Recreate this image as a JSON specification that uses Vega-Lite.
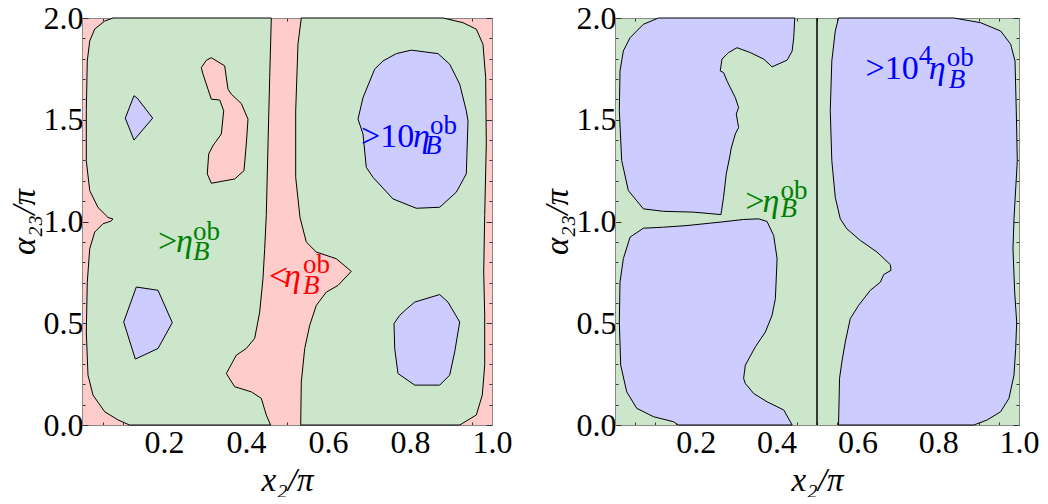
{
  "$schema": "https://vega.github.io/schema/vega-lite/v6.json",
  "padding": {"left": 8, "top": 2, "right": 0, "bottom": 0},
  "spacing": 29,
  "config": {
    "view": {"stroke": null},
    "axis": {
      "grid": false,
      "labelFont": "'Liberation Serif', 'Times New Roman', serif",
      "labelFontSize": 32,
      "labelColor": "black",
      "labelFlush": false,
      "labelOverlap": false,
      "titleFont": "'Liberation Serif', 'Times New Roman', serif",
      "titleFontSize": 33,
      "titleFontWeight": "normal",
      "titleFontStyle": "italic",
      "titleColor": "black",
      "domainColor": "#888888",
      "domainWidth": 1,
      "tickColor": "#333333",
      "tickWidth": 1
    }
  },
  "datasets": {
    "left": [
      {"s":"g1","r":"above","o":1,"x":0.0756,"y":2},
      {"s":"g1","r":"above","o":2,"x":0.0554,"y":1.985},
      {"s":"g1","r":"above","o":3,"x":0.031,"y":1.946},
      {"s":"g1","r":"above","o":4,"x":0.0188,"y":1.887},
      {"s":"g1","r":"above","o":5,"x":0.0129,"y":1.789},
      {"s":"g1","r":"above","o":6,"x":0.0105,"y":1.544},
      {"s":"g1","r":"above","o":7,"x":0.0105,"y":1.299},
      {"s":"g1","r":"above","o":8,"x":0.0188,"y":1.152},
      {"s":"g1","r":"above","o":9,"x":0.039,"y":1.069},
      {"s":"g1","r":"above","o":10,"x":0.0634,"y":1.02},
      {"s":"g1","r":"above","o":11,"x":0.0756,"y":1.012},
      {"s":"g1","r":"above","o":12,"x":0.0707,"y":1.002},
      {"s":"g1","r":"above","o":13,"x":0.0512,"y":0.989},
      {"s":"g1","r":"above","o":14,"x":0.031,"y":0.948},
      {"s":"g1","r":"above","o":15,"x":0.0188,"y":0.866},
      {"s":"g1","r":"above","o":16,"x":0.0129,"y":0.702},
      {"s":"g1","r":"above","o":17,"x":0.0105,"y":0.457},
      {"s":"g1","r":"above","o":18,"x":0.0146,"y":0.245},
      {"s":"g1","r":"above","o":19,"x":0.0268,"y":0.147},
      {"s":"g1","r":"above","o":20,"x":0.0554,"y":0.065},
      {"s":"g1","r":"above","o":21,"x":0.0878,"y":0.025},
      {"s":"g1","r":"above","o":22,"x":0.116,"y":0},
      {"s":"g1","r":"above","o":23,"x":0.46,"y":0},
      {"s":"g1","r":"above","o":24,"x":0.4495,"y":0.049},
      {"s":"g1","r":"above","o":25,"x":0.4373,"y":0.131},
      {"s":"g1","r":"above","o":26,"x":0.4129,"y":0.163},
      {"s":"g1","r":"above","o":27,"x":0.3724,"y":0.188},
      {"s":"g1","r":"above","o":28,"x":0.352,"y":0.253},
      {"s":"g1","r":"above","o":29,"x":0.3763,"y":0.343},
      {"s":"g1","r":"above","o":30,"x":0.4007,"y":0.376},
      {"s":"g1","r":"above","o":31,"x":0.4212,"y":0.426},
      {"s":"g1","r":"above","o":32,"x":0.4334,"y":0.555},
      {"s":"g1","r":"above","o":33,"x":0.4415,"y":0.721},
      {"s":"g1","r":"above","o":34,"x":0.4456,"y":0.868},
      {"s":"g1","r":"above","o":35,"x":0.4495,"y":1.029},
      {"s":"g1","r":"above","o":36,"x":0.4537,"y":1.382},
      {"s":"g1","r":"above","o":37,"x":0.4578,"y":1.707},
      {"s":"g1","r":"above","o":38,"x":0.4617,"y":2},
      {"s":"g2","r":"above","o":1,"x":0.5349,"y":2},
      {"s":"g2","r":"above","o":2,"x":0.5268,"y":1.873},
      {"s":"g2","r":"above","o":3,"x":0.5212,"y":1.544},
      {"s":"g2","r":"above","o":4,"x":0.5212,"y":1.217},
      {"s":"g2","r":"above","o":5,"x":0.5317,"y":1.02},
      {"s":"g2","r":"above","o":6,"x":0.5471,"y":0.899},
      {"s":"g2","r":"above","o":7,"x":0.5715,"y":0.85},
      {"s":"g2","r":"above","o":8,"x":0.6202,"y":0.817},
      {"s":"g2","r":"above","o":9,"x":0.6568,"y":0.755},
      {"s":"g2","r":"above","o":10,"x":0.6244,"y":0.686},
      {"s":"g2","r":"above","o":11,"x":0.5959,"y":0.653},
      {"s":"g2","r":"above","o":12,"x":0.5715,"y":0.588},
      {"s":"g2","r":"above","o":13,"x":0.5554,"y":0.49},
      {"s":"g2","r":"above","o":14,"x":0.5432,"y":0.376},
      {"s":"g2","r":"above","o":15,"x":0.5349,"y":0.212},
      {"s":"g2","r":"above","o":16,"x":0.5334,"y":0},
      {"s":"g2","r":"above","o":17,"x":0.9212,"y":0},
      {"s":"g2","r":"above","o":18,"x":0.9617,"y":0.049},
      {"s":"g2","r":"above","o":19,"x":0.9763,"y":0.147},
      {"s":"g2","r":"above","o":20,"x":0.9822,"y":0.294},
      {"s":"g2","r":"above","o":21,"x":0.9822,"y":0.539},
      {"s":"g2","r":"above","o":22,"x":0.9798,"y":0.751},
      {"s":"g2","r":"above","o":23,"x":0.9822,"y":1.029},
      {"s":"g2","r":"above","o":24,"x":0.9861,"y":1.381},
      {"s":"g2","r":"above","o":25,"x":0.9846,"y":1.707},
      {"s":"g2","r":"above","o":26,"x":0.978,"y":1.871},
      {"s":"g2","r":"above","o":27,"x":0.9617,"y":1.945},
      {"s":"g2","r":"above","o":28,"x":0.9293,"y":1.977},
      {"s":"g2","r":"above","o":29,"x":0.8805,"y":2},
      {"s":"r1","r":"below","o":1,"x":0.3154,"y":1.805},
      {"s":"r1","r":"below","o":2,"x":0.348,"y":1.765},
      {"s":"r1","r":"below","o":3,"x":0.3561,"y":1.65},
      {"s":"r1","r":"below","o":4,"x":0.3641,"y":1.626},
      {"s":"r1","r":"below","o":5,"x":0.3885,"y":1.58},
      {"s":"r1","r":"below","o":6,"x":0.4049,"y":1.503},
      {"s":"r1","r":"below","o":7,"x":0.4007,"y":1.381},
      {"s":"r1","r":"below","o":8,"x":0.3951,"y":1.25},
      {"s":"r1","r":"below","o":9,"x":0.3724,"y":1.209},
      {"s":"r1","r":"below","o":10,"x":0.3154,"y":1.188},
      {"s":"r1","r":"below","o":11,"x":0.3056,"y":1.234},
      {"s":"r1","r":"below","o":12,"x":0.309,"y":1.332},
      {"s":"r1","r":"below","o":13,"x":0.3195,"y":1.373},
      {"s":"r1","r":"below","o":14,"x":0.3398,"y":1.43},
      {"s":"r1","r":"below","o":15,"x":0.3456,"y":1.544},
      {"s":"r1","r":"below","o":16,"x":0.3359,"y":1.597},
      {"s":"r1","r":"below","o":17,"x":0.3154,"y":1.601},
      {"s":"r1","r":"below","o":18,"x":0.3073,"y":1.65},
      {"s":"r1","r":"below","o":19,"x":0.2951,"y":1.724},
      {"s":"r1","r":"below","o":20,"x":0.291,"y":1.756},
      {"s":"r1","r":"below","o":21,"x":0.3032,"y":1.792},
      {"s":"b1","r":"far","o":1,"x":0.1268,"y":1.618},
      {"s":"b1","r":"far","o":2,"x":0.1349,"y":1.606},
      {"s":"b1","r":"far","o":3,"x":0.1724,"y":1.508},
      {"s":"b1","r":"far","o":4,"x":0.1268,"y":1.4},
      {"s":"b1","r":"far","o":5,"x":0.1056,"y":1.508},
      {"s":"b2","r":"far","o":1,"x":0.1324,"y":0.678},
      {"s":"b2","r":"far","o":2,"x":0.1854,"y":0.662},
      {"s":"b2","r":"far","o":3,"x":0.2202,"y":0.503},
      {"s":"b2","r":"far","o":4,"x":0.1854,"y":0.376},
      {"s":"b2","r":"far","o":5,"x":0.13,"y":0.324},
      {"s":"b2","r":"far","o":6,"x":0.1017,"y":0.506},
      {"s":"b3","r":"far","o":1,"x":0.8032,"y":1.842},
      {"s":"b3","r":"far","o":2,"x":0.8683,"y":1.825},
      {"s":"b3","r":"far","o":3,"x":0.8968,"y":1.773},
      {"s":"b3","r":"far","o":4,"x":0.9212,"y":1.675},
      {"s":"b3","r":"far","o":5,"x":0.9373,"y":1.544},
      {"s":"b3","r":"far","o":6,"x":0.9415,"y":1.495},
      {"s":"b3","r":"far","o":7,"x":0.9373,"y":1.234},
      {"s":"b3","r":"far","o":8,"x":0.9129,"y":1.144},
      {"s":"b3","r":"far","o":9,"x":0.8724,"y":1.07},
      {"s":"b3","r":"far","o":10,"x":0.8154,"y":1.065},
      {"s":"b3","r":"far","o":11,"x":0.7585,"y":1.111},
      {"s":"b3","r":"far","o":12,"x":0.7098,"y":1.217},
      {"s":"b3","r":"far","o":13,"x":0.6934,"y":1.266},
      {"s":"b3","r":"far","o":14,"x":0.6854,"y":1.43},
      {"s":"b3","r":"far","o":15,"x":0.6732,"y":1.503},
      {"s":"b3","r":"far","o":16,"x":0.6854,"y":1.609},
      {"s":"b3","r":"far","o":17,"x":0.7139,"y":1.749},
      {"s":"b3","r":"far","o":18,"x":0.7341,"y":1.789},
      {"s":"b3","r":"far","o":19,"x":0.7666,"y":1.825},
      {"s":"b4","r":"far","o":1,"x":0.8115,"y":0.604},
      {"s":"b4","r":"far","o":2,"x":0.8724,"y":0.641},
      {"s":"b4","r":"far","o":3,"x":0.8927,"y":0.604},
      {"s":"b4","r":"far","o":4,"x":0.9212,"y":0.506},
      {"s":"b4","r":"far","o":5,"x":0.909,"y":0.359},
      {"s":"b4","r":"far","o":6,"x":0.8968,"y":0.245},
      {"s":"b4","r":"far","o":7,"x":0.8724,"y":0.196},
      {"s":"b4","r":"far","o":8,"x":0.8115,"y":0.196},
      {"s":"b4","r":"far","o":9,"x":0.7707,"y":0.253},
      {"s":"b4","r":"far","o":10,"x":0.7627,"y":0.376},
      {"s":"b4","r":"far","o":11,"x":0.761,"y":0.499},
      {"s":"b4","r":"far","o":12,"x":0.7749,"y":0.539},
      {"s":"b4","r":"far","o":13,"x":0.791,"y":0.569}
    ],
    "right": [
      {"s":"R1","r":"far","o":1,"x":0.1074,"y":2},
      {"s":"R1","r":"far","o":2,"x":0.0702,"y":1.969},
      {"s":"R1","r":"far","o":3,"x":0.0372,"y":1.903},
      {"s":"R1","r":"far","o":4,"x":0.0206,"y":1.838},
      {"s":"R1","r":"far","o":5,"x":0.0124,"y":1.74},
      {"s":"R1","r":"far","o":6,"x":0.0107,"y":1.544},
      {"s":"R1","r":"far","o":7,"x":0.0166,"y":1.299},
      {"s":"R1","r":"far","o":8,"x":0.033,"y":1.152},
      {"s":"R1","r":"far","o":9,"x":0.0702,"y":1.062},
      {"s":"R1","r":"far","o":10,"x":0.1199,"y":1.05},
      {"s":"R1","r":"far","o":11,"x":0.1943,"y":1.046},
      {"s":"R1","r":"far","o":12,"x":0.2623,"y":1.034},
      {"s":"R1","r":"far","o":13,"x":0.2687,"y":1.119},
      {"s":"R1","r":"far","o":14,"x":0.2754,"y":1.234},
      {"s":"R1","r":"far","o":15,"x":0.2854,"y":1.332},
      {"s":"R1","r":"far","o":16,"x":0.2871,"y":1.356},
      {"s":"R1","r":"far","o":17,"x":0.2978,"y":1.43},
      {"s":"R1","r":"far","o":18,"x":0.306,"y":1.462},
      {"s":"R1","r":"far","o":19,"x":0.3002,"y":1.528},
      {"s":"R1","r":"far","o":20,"x":0.306,"y":1.56},
      {"s":"R1","r":"far","o":21,"x":0.2978,"y":1.609},
      {"s":"R1","r":"far","o":22,"x":0.2854,"y":1.658},
      {"s":"R1","r":"far","o":23,"x":0.2772,"y":1.691},
      {"s":"R1","r":"far","o":24,"x":0.2687,"y":1.732},
      {"s":"R1","r":"far","o":25,"x":0.2605,"y":1.74},
      {"s":"R1","r":"far","o":26,"x":0.2648,"y":1.798},
      {"s":"R1","r":"far","o":27,"x":0.2811,"y":1.83},
      {"s":"R1","r":"far","o":28,"x":0.302,"y":1.854},
      {"s":"R1","r":"far","o":29,"x":0.335,"y":1.83},
      {"s":"R1","r":"far","o":30,"x":0.368,"y":1.798},
      {"s":"R1","r":"far","o":31,"x":0.3888,"y":1.76},
      {"s":"R1","r":"far","o":32,"x":0.4261,"y":1.793},
      {"s":"R1","r":"far","o":33,"x":0.4385,"y":1.838},
      {"s":"R1","r":"far","o":34,"x":0.4424,"y":1.903},
      {"s":"R1","r":"far","o":35,"x":0.4449,"y":2},
      {"s":"R2","r":"far","o":1,"x":0.0702,"y":0.967},
      {"s":"R2","r":"far","o":2,"x":0.0372,"y":0.923},
      {"s":"R2","r":"far","o":3,"x":0.0206,"y":0.817},
      {"s":"R2","r":"far","o":4,"x":0.0124,"y":0.702},
      {"s":"R2","r":"far","o":5,"x":0.0107,"y":0.506},
      {"s":"R2","r":"far","o":6,"x":0.0141,"y":0.294},
      {"s":"R2","r":"far","o":7,"x":0.029,"y":0.163},
      {"s":"R2","r":"far","o":8,"x":0.0538,"y":0.082},
      {"s":"R2","r":"far","o":9,"x":0.095,"y":0.041},
      {"s":"R2","r":"far","o":10,"x":0.1447,"y":0.016},
      {"s":"R2","r":"far","o":11,"x":0.1571,"y":0},
      {"s":"R2","r":"far","o":12,"x":0.4385,"y":0},
      {"s":"R2","r":"far","o":13,"x":0.4176,"y":0.074},
      {"s":"R2","r":"far","o":14,"x":0.3764,"y":0.114},
      {"s":"R2","r":"far","o":15,"x":0.3432,"y":0.155},
      {"s":"R2","r":"far","o":16,"x":0.3226,"y":0.204},
      {"s":"R2","r":"far","o":17,"x":0.3184,"y":0.229},
      {"s":"R2","r":"far","o":18,"x":0.3226,"y":0.294},
      {"s":"R2","r":"far","o":19,"x":0.3474,"y":0.384},
      {"s":"R2","r":"far","o":20,"x":0.3722,"y":0.457},
      {"s":"R2","r":"far","o":21,"x":0.3888,"y":0.539},
      {"s":"R2","r":"far","o":22,"x":0.397,"y":0.621},
      {"s":"R2","r":"far","o":23,"x":0.4012,"y":0.817},
      {"s":"R2","r":"far","o":24,"x":0.3928,"y":0.931},
      {"s":"R2","r":"far","o":25,"x":0.3764,"y":1.0},
      {"s":"R2","r":"far","o":26,"x":0.3556,"y":1.013},
      {"s":"R2","r":"far","o":27,"x":0.3184,"y":1.01},
      {"s":"R2","r":"far","o":28,"x":0.2605,"y":0.997},
      {"s":"R2","r":"far","o":29,"x":0.1779,"y":0.98},
      {"s":"R2","r":"far","o":30,"x":0.1199,"y":0.972},
      {"s":"R3","r":"far","o":1,"x":0.5533,"y":2},
      {"s":"R3","r":"far","o":2,"x":0.5452,"y":1.936},
      {"s":"R3","r":"far","o":3,"x":0.5367,"y":1.789},
      {"s":"R3","r":"far","o":4,"x":0.5328,"y":1.544},
      {"s":"R3","r":"far","o":5,"x":0.5367,"y":1.299},
      {"s":"R3","r":"far","o":6,"x":0.5452,"y":1.119},
      {"s":"R3","r":"far","o":7,"x":0.5576,"y":1.013},
      {"s":"R3","r":"far","o":8,"x":0.5739,"y":0.964},
      {"s":"R3","r":"far","o":9,"x":0.6072,"y":0.907},
      {"s":"R3","r":"far","o":10,"x":0.6484,"y":0.85},
      {"s":"R3","r":"far","o":11,"x":0.6816,"y":0.788},
      {"s":"R3","r":"far","o":12,"x":0.6831,"y":0.76},
      {"s":"R3","r":"far","o":13,"x":0.665,"y":0.739},
      {"s":"R3","r":"far","o":14,"x":0.6568,"y":0.702},
      {"s":"R3","r":"far","o":15,"x":0.632,"y":0.662},
      {"s":"R3","r":"far","o":16,"x":0.603,"y":0.588},
      {"s":"R3","r":"far","o":17,"x":0.5824,"y":0.523},
      {"s":"R3","r":"far","o":18,"x":0.57,"y":0.408},
      {"s":"R3","r":"far","o":19,"x":0.5615,"y":0.31},
      {"s":"R3","r":"far","o":20,"x":0.5558,"y":0.229},
      {"s":"R3","r":"far","o":21,"x":0.5533,"y":0},
      {"s":"R3","r":"far","o":22,"x":0.8883,"y":0},
      {"s":"R3","r":"far","o":23,"x":0.9213,"y":0.025},
      {"s":"R3","r":"far","o":24,"x":0.9546,"y":0.065},
      {"s":"R3","r":"far","o":25,"x":0.9752,"y":0.131},
      {"s":"R3","r":"far","o":26,"x":0.9876,"y":0.245},
      {"s":"R3","r":"far","o":27,"x":0.9918,"y":0.376},
      {"s":"R3","r":"far","o":28,"x":0.9943,"y":0.506},
      {"s":"R3","r":"far","o":29,"x":0.9893,"y":0.653},
      {"s":"R3","r":"far","o":30,"x":0.9851,"y":0.866},
      {"s":"R3","r":"far","o":31,"x":0.9876,"y":1.013},
      {"s":"R3","r":"far","o":32,"x":0.9958,"y":1.299},
      {"s":"R3","r":"far","o":33,"x":0.9933,"y":1.544},
      {"s":"R3","r":"far","o":34,"x":0.9901,"y":1.789},
      {"s":"R3","r":"far","o":35,"x":0.9794,"y":1.871},
      {"s":"R3","r":"far","o":36,"x":0.9546,"y":1.936},
      {"s":"R3","r":"far","o":37,"x":0.905,"y":1.977},
      {"s":"R3","r":"far","o":38,"x":0.8387,"y":2}
    ],
    "vline": [{"x": 0.5}],
    "labels": [
      {"p":"L","k":"main","t":">","x":0.1854,"y":0.8495,"lev":"above"},
      {"p":"L","k":"greek","t":"η","x":0.2293,"y":0.8495,"lev":"above"},
      {"p":"L","k":"sup","t":"ob","x":0.2707,"y":0.907,"lev":"above"},
      {"p":"L","k":"sub","t":"B","x":0.2707,"y":0.809,"lev":"above"},
      {"p":"L","k":"main","t":"<","x":0.456,"y":0.676,"lev":"below"},
      {"p":"L","k":"greek","t":"η","x":0.4927,"y":0.676,"lev":"below"},
      {"p":"L","k":"sup","t":"ob","x":0.539,"y":0.745,"lev":"below"},
      {"p":"L","k":"sub","t":"B","x":0.539,"y":0.642,"lev":"below"},
      {"p":"L","k":"main","t":">10","x":0.6805,"y":1.368,"lev":"far"},
      {"p":"L","k":"greek","t":"η","x":0.8073,"y":1.368,"lev":"far"},
      {"p":"L","k":"sup","t":"ob","x":0.849,"y":1.43,"lev":"far"},
      {"p":"L","k":"sub","t":"B","x":0.8366,"y":1.332,"lev":"far"},
      {"p":"R","k":"main","t":">10","x":0.6203,"y":1.701,"lev":"far"},
      {"p":"R","k":"sup","t":"4","x":0.7519,"y":1.775,"lev":"far"},
      {"p":"R","k":"greek","t":"η","x":0.7767,"y":1.701,"lev":"far"},
      {"p":"R","k":"sup","t":"ob","x":0.8213,"y":1.765,"lev":"far"},
      {"p":"R","k":"sub","t":"B","x":0.8263,"y":1.658,"lev":"far"},
      {"p":"R","k":"main","t":">","x":0.3226,"y":1.049,"lev":"above"},
      {"p":"R","k":"greek","t":"η","x":0.3648,"y":1.049,"lev":"above"},
      {"p":"R","k":"sup","t":"ob","x":0.4094,"y":1.111,"lev":"above"},
      {"p":"R","k":"sub","t":"B","x":0.4094,"y":1.021,"lev":"above"}
    ]
  },
  "hconcat": [
    {
      "width": 410,
      "height": 407,
      "view": {"fill": "#ffcccc", "stroke": null},
      "resolve": {"axis": {"x": "independent", "y": "independent"}},
      "layer": [
        {
          "data": {"name": "left"},
          "transform": [{"filter": "datum.r == 'above'"}],
          "mark": {"type": "line", "interpolate": "linear-closed", "filled": true, "fill": "#cce6cc", "stroke": "#000000", "strokeWidth": 1},
          "encoding": {
            "x": {"field": "x", "type": "quantitative", "scale": {"domain": [0, 1], "nice": false, "zero": false},
              "axis": {"orient": "bottom", "title": "x₂/π", "values": [0,0.05,0.1,0.15,0.2,0.25,0.3,0.35,0.4,0.45,0.5,0.55,0.6,0.65,0.7,0.75,0.8,0.85,0.9,0.95,1],
                "labelExpr": "datum.value > 0.01 && abs(datum.value*5 - round(datum.value*5)) < 0.001 ? format(datum.value, '.1f') : ''",
                "tickSize": {"condition": {"test": "abs(datum.value*5 - round(datum.value*5)) < 0.001", "value": -6}, "value": -3},
                "labelPadding": 8, "titlePadding": 3}},
            "y": {"field": "y", "type": "quantitative", "scale": {"domain": [0, 2], "nice": false, "zero": false},
              "axis": {"orient": "left", "title": "α₂₃/π", "values": [0,0.1,0.2,0.3,0.4,0.5,0.6,0.7,0.8,0.9,1,1.1,1.2,1.3,1.4,1.5,1.6,1.7,1.8,1.9,2],
                "labelExpr": "abs(datum.value*2 - round(datum.value*2)) < 0.001 ? format(datum.value, '.1f') : ''",
                "tickSize": {"condition": {"test": "abs(datum.value*2 - round(datum.value*2)) < 0.001", "value": -6}, "value": -3},
                "labelPadding": 5, "titlePadding": 2}},
            "detail": {"field": "s"},
            "order": {"field": "o", "type": "quantitative"}
          }
        },
        {
          "data": {"name": "left"},
          "transform": [{"filter": "datum.r == 'below'"}],
          "mark": {"type": "line", "interpolate": "linear-closed", "filled": true, "fill": "#ffcccc", "stroke": "#000000", "strokeWidth": 1},
          "encoding": {
            "x": {"field": "x", "type": "quantitative", "axis": null},
            "y": {"field": "y", "type": "quantitative", "axis": null},
            "detail": {"field": "s"},
            "order": {"field": "o", "type": "quantitative"}
          }
        },
        {
          "data": {"name": "left"},
          "transform": [{"filter": "datum.r == 'far'"}],
          "mark": {"type": "line", "interpolate": "linear-closed", "filled": true, "fill": "#ccccff", "stroke": "#000000", "strokeWidth": 1},
          "encoding": {
            "x": {"field": "x", "type": "quantitative", "axis": null},
            "y": {"field": "y", "type": "quantitative", "axis": null},
            "detail": {"field": "s"},
            "order": {"field": "o", "type": "quantitative"}
          }
        },
        {
          "data": {"name": "labels"},
          "transform": [{"filter": "datum.p == 'L' && datum.k == 'main'"}],
          "mark": {"type": "text", "align": "left", "baseline": "alphabetic", "font": "'Liberation Serif', 'Times New Roman', serif", "fontSize": 34},
          "encoding": {
            "x": {"field": "x", "type": "quantitative",
              "axis": {"orient": "top", "title": null, "labels": false, "values": [0,0.05,0.1,0.15,0.2,0.25,0.3,0.35,0.4,0.45,0.5,0.55,0.6,0.65,0.7,0.75,0.8,0.85,0.9,0.95,1],
                "tickSize": {"condition": {"test": "abs(datum.value*5 - round(datum.value*5)) < 0.001", "value": -6}, "value": -3}}},
            "y": {"field": "y", "type": "quantitative",
              "axis": {"orient": "right", "title": null, "labels": false, "values": [0,0.1,0.2,0.3,0.4,0.5,0.6,0.7,0.8,0.9,1,1.1,1.2,1.3,1.4,1.5,1.6,1.7,1.8,1.9,2],
                "tickSize": {"condition": {"test": "abs(datum.value*2 - round(datum.value*2)) < 0.001", "value": -6}, "value": -3}}},
            "text": {"field": "t"},
            "color": {"field": "lev", "type": "nominal", "scale": {"domain": ["above", "below", "far"], "range": ["#008000", "#ff0000", "#0000ff"]}, "legend": null}
          }
        },
        {
          "data": {"name": "labels"},
          "transform": [{"filter": "datum.p == 'L' && datum.k == 'greek'"}],
          "mark": {"type": "text", "align": "left", "baseline": "alphabetic", "font": "'Liberation Serif', 'Times New Roman', serif", "fontSize": 34, "fontStyle": "italic"},
          "encoding": {
            "x": {"field": "x", "type": "quantitative", "axis": null},
            "y": {"field": "y", "type": "quantitative", "axis": null},
            "text": {"field": "t"},
            "color": {"field": "lev", "type": "nominal", "legend": null}
          }
        },
        {
          "data": {"name": "labels"},
          "transform": [{"filter": "datum.p == 'L' && datum.k == 'sup'"}],
          "mark": {"type": "text", "align": "left", "baseline": "alphabetic", "font": "'Liberation Serif', 'Times New Roman', serif", "fontSize": 27},
          "encoding": {
            "x": {"field": "x", "type": "quantitative", "axis": null},
            "y": {"field": "y", "type": "quantitative", "axis": null},
            "text": {"field": "t"},
            "color": {"field": "lev", "type": "nominal", "legend": null}
          }
        },
        {
          "data": {"name": "labels"},
          "transform": [{"filter": "datum.p == 'L' && datum.k == 'sub'"}],
          "mark": {"type": "text", "align": "left", "baseline": "alphabetic", "font": "'Liberation Serif', 'Times New Roman', serif", "fontSize": 27, "fontStyle": "italic"},
          "encoding": {
            "x": {"field": "x", "type": "quantitative", "axis": null},
            "y": {"field": "y", "type": "quantitative", "axis": null},
            "text": {"field": "t"},
            "color": {"field": "lev", "type": "nominal", "legend": null}
          }
        }
      ]
    },
    {
      "width": 404,
      "height": 407,
      "view": {"fill": "#cce6cc", "stroke": null},
      "resolve": {"axis": {"x": "independent", "y": "independent"}},
      "layer": [
        {
          "data": {"name": "right"},
          "mark": {"type": "line", "interpolate": "linear-closed", "filled": true, "fill": "#ccccff", "stroke": "#000000", "strokeWidth": 1},
          "encoding": {
            "x": {"field": "x", "type": "quantitative", "scale": {"domain": [0, 1], "nice": false, "zero": false},
              "axis": {"orient": "bottom", "title": "x₂/π", "values": [0,0.05,0.1,0.15,0.2,0.25,0.3,0.35,0.4,0.45,0.5,0.55,0.6,0.65,0.7,0.75,0.8,0.85,0.9,0.95,1],
                "labelExpr": "datum.value > 0.01 && abs(datum.value*5 - round(datum.value*5)) < 0.001 ? format(datum.value, '.1f') : ''",
                "tickSize": {"condition": {"test": "abs(datum.value*5 - round(datum.value*5)) < 0.001", "value": -6}, "value": -3},
                "labelPadding": 8, "titlePadding": 3}},
            "y": {"field": "y", "type": "quantitative", "scale": {"domain": [0, 2], "nice": false, "zero": false},
              "axis": {"orient": "left", "title": "α₂₃/π", "values": [0,0.1,0.2,0.3,0.4,0.5,0.6,0.7,0.8,0.9,1,1.1,1.2,1.3,1.4,1.5,1.6,1.7,1.8,1.9,2],
                "labelExpr": "abs(datum.value*2 - round(datum.value*2)) < 0.001 ? format(datum.value, '.1f') : ''",
                "tickSize": {"condition": {"test": "abs(datum.value*2 - round(datum.value*2)) < 0.001", "value": -6}, "value": -3},
                "labelPadding": 5, "titlePadding": 2}},
            "detail": {"field": "s"},
            "order": {"field": "o", "type": "quantitative"}
          }
        },
        {
          "data": {"name": "vline"},
          "mark": {"type": "rule", "color": "#000000", "strokeWidth": 1.5},
          "encoding": {
            "x": {"field": "x", "type": "quantitative", "axis": null}
          }
        },
        {
          "data": {"name": "labels"},
          "transform": [{"filter": "datum.p == 'R' && datum.k == 'main'"}],
          "mark": {"type": "text", "align": "left", "baseline": "alphabetic", "font": "'Liberation Serif', 'Times New Roman', serif", "fontSize": 34},
          "encoding": {
            "x": {"field": "x", "type": "quantitative",
              "axis": {"orient": "top", "title": null, "labels": false, "values": [0,0.05,0.1,0.15,0.2,0.25,0.3,0.35,0.4,0.45,0.5,0.55,0.6,0.65,0.7,0.75,0.8,0.85,0.9,0.95,1],
                "tickSize": {"condition": {"test": "abs(datum.value*5 - round(datum.value*5)) < 0.001", "value": -6}, "value": -3}}},
            "y": {"field": "y", "type": "quantitative",
              "axis": {"orient": "right", "title": null, "labels": false, "values": [0,0.1,0.2,0.3,0.4,0.5,0.6,0.7,0.8,0.9,1,1.1,1.2,1.3,1.4,1.5,1.6,1.7,1.8,1.9,2],
                "tickSize": {"condition": {"test": "abs(datum.value*2 - round(datum.value*2)) < 0.001", "value": -6}, "value": -3}}},
            "text": {"field": "t"},
            "color": {"field": "lev", "type": "nominal", "scale": {"domain": ["above", "below", "far"], "range": ["#008000", "#ff0000", "#0000ff"]}, "legend": null}
          }
        },
        {
          "data": {"name": "labels"},
          "transform": [{"filter": "datum.p == 'R' && datum.k == 'greek'"}],
          "mark": {"type": "text", "align": "left", "baseline": "alphabetic", "font": "'Liberation Serif', 'Times New Roman', serif", "fontSize": 34, "fontStyle": "italic"},
          "encoding": {
            "x": {"field": "x", "type": "quantitative", "axis": null},
            "y": {"field": "y", "type": "quantitative", "axis": null},
            "text": {"field": "t"},
            "color": {"field": "lev", "type": "nominal", "legend": null}
          }
        },
        {
          "data": {"name": "labels"},
          "transform": [{"filter": "datum.p == 'R' && datum.k == 'sup'"}],
          "mark": {"type": "text", "align": "left", "baseline": "alphabetic", "font": "'Liberation Serif', 'Times New Roman', serif", "fontSize": 27},
          "encoding": {
            "x": {"field": "x", "type": "quantitative", "axis": null},
            "y": {"field": "y", "type": "quantitative", "axis": null},
            "text": {"field": "t"},
            "color": {"field": "lev", "type": "nominal", "legend": null}
          }
        },
        {
          "data": {"name": "labels"},
          "transform": [{"filter": "datum.p == 'R' && datum.k == 'sub'"}],
          "mark": {"type": "text", "align": "left", "baseline": "alphabetic", "font": "'Liberation Serif', 'Times New Roman', serif", "fontSize": 27, "fontStyle": "italic"},
          "encoding": {
            "x": {"field": "x", "type": "quantitative", "axis": null},
            "y": {"field": "y", "type": "quantitative", "axis": null},
            "text": {"field": "t"},
            "color": {"field": "lev", "type": "nominal", "legend": null}
          }
        }
      ]
    }
  ]
}
